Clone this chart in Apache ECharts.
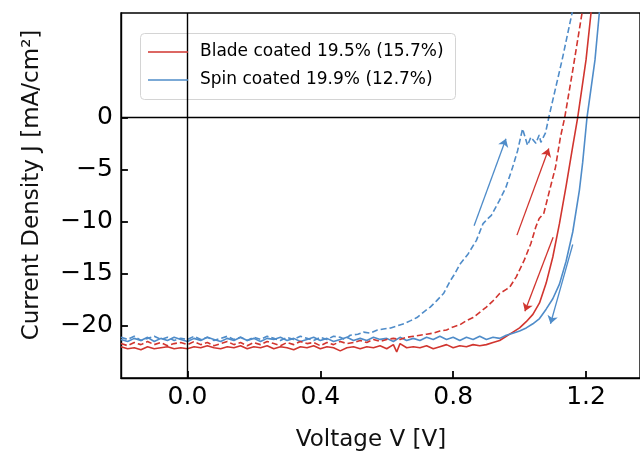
<!DOCTYPE html>
<html><head><meta charset="utf-8">
<script src="https://cdn.jsdelivr.net/npm/echarts@6/dist/echarts.min.js"></script>
<style>html,body{margin:0;padding:0;background:#fff}#c{width:640px;height:455px}</style>
</head><body><div id="c"></div>
<script>
// tick labels
const xTicks = [0, 0.4, 0.8, 1.2];
const yTicks = [-20, -15, -10, -5, 0];
const seriesNames = ['Blade coated 19.5% (15.7%)', 'Spin coated 19.9% (12.7%)'];

// Blade coated, solid scan  [V, J]
const bladeSolid = [
[-0.20,-22.0],[-0.18,-22.2],[-0.16,-22.1],[-0.14,-22.3],[-0.12,-22.0],[-0.10,-22.2],[-0.08,-22.1],[-0.06,-22.0],
[-0.04,-22.2],[-0.02,-22.1],[0.00,-22.2],[0.02,-22.0],[0.04,-22.1],[0.06,-21.9],[0.08,-22.1],[0.10,-22.2],
[0.12,-22.0],[0.14,-22.1],[0.16,-21.9],[0.18,-22.2],[0.20,-22.0],[0.22,-22.1],[0.24,-21.9],[0.26,-22.2],
[0.28,-22.0],[0.30,-22.1],[0.32,-22.3],[0.34,-22.0],[0.36,-22.1],[0.38,-21.9],[0.40,-22.2],[0.42,-22.0],
[0.44,-22.1],[0.46,-22.4],[0.48,-22.1],[0.50,-22.0],[0.52,-22.2],[0.54,-22.0],[0.56,-22.1],[0.58,-21.9],
[0.60,-22.2],[0.62,-21.8],[0.63,-22.5],[0.64,-21.7],[0.66,-22.1],[0.68,-22.0],[0.70,-22.1],[0.72,-21.9],
[0.74,-22.2],[0.76,-22.0],[0.78,-21.8],[0.80,-22.1],[0.82,-21.9],[0.84,-22.0],[0.86,-21.8],[0.88,-21.9],
[0.90,-21.8],[0.92,-21.6],[0.94,-21.4],[0.96,-21.0],[0.98,-20.6],[1.00,-20.2],[1.02,-19.6],[1.04,-18.9],
[1.06,-17.8],[1.08,-15.9],[1.10,-13.4],[1.12,-10.2],[1.14,-6.6],[1.16,-2.8],[1.175,0],[1.20,5.5],
[1.215,10],[1.222,12]
];
// Blade coated, dashed scan
const bladeDashed = [
[-0.20,-21.7],[-0.18,-21.9],[-0.16,-21.6],[-0.14,-21.8],[-0.12,-21.5],[-0.10,-21.8],[-0.08,-21.6],[-0.06,-21.9],
[-0.04,-21.7],[-0.02,-21.6],[0.00,-21.8],[0.02,-21.5],[0.04,-21.8],[0.06,-21.6],[0.08,-21.9],[0.10,-21.7],
[0.12,-21.5],[0.14,-21.8],[0.16,-21.6],[0.18,-21.9],[0.20,-21.6],[0.22,-21.8],[0.24,-21.5],[0.26,-21.7],
[0.28,-21.9],[0.30,-21.6],[0.32,-21.8],[0.34,-21.5],[0.36,-21.7],[0.38,-21.6],[0.40,-21.9],[0.42,-21.6],
[0.44,-21.8],[0.46,-21.5],[0.48,-21.7],[0.50,-21.6],[0.52,-21.4],[0.54,-21.6],[0.56,-21.3],[0.58,-21.5],
[0.60,-21.3],[0.62,-21.2],[0.64,-21.3],[0.66,-21.1],[0.68,-21.0],[0.70,-20.9],[0.72,-20.8],[0.74,-20.7],
[0.76,-20.5],[0.78,-20.4],[0.80,-20.1],[0.82,-19.9],[0.84,-19.5],[0.86,-19.2],[0.88,-18.7],[0.90,-18.2],
[0.92,-17.6],[0.94,-16.9],[0.96,-16.5],[0.97,-16.3],[0.99,-15.3],[1.014,-13.7],[1.034,-12.1],[1.049,-10.5],
[1.059,-9.7],[1.073,-9.2],[1.088,-7.3],[1.108,-4.8],[1.123,-1.9],[1.136,0],[1.16,4.5],[1.188,10],[1.195,11.5]
];
// Spin coated, solid scan
const spinSolid = [
[-0.20,-21.3],[-0.18,-21.5],[-0.16,-21.2],[-0.14,-21.4],[-0.12,-21.1],[-0.10,-21.5],[-0.08,-21.2],[-0.06,-21.4],
[-0.04,-21.1],[-0.02,-21.3],[0.00,-21.5],[0.02,-21.2],[0.04,-21.4],[0.06,-21.1],[0.08,-21.3],[0.10,-21.5],
[0.12,-21.2],[0.14,-21.4],[0.16,-21.1],[0.18,-21.4],[0.20,-21.2],[0.22,-21.5],[0.24,-21.2],[0.26,-21.3],
[0.28,-21.1],[0.30,-21.4],[0.32,-21.2],[0.34,-21.5],[0.36,-21.3],[0.38,-21.1],[0.40,-21.4],[0.42,-21.2],
[0.44,-21.5],[0.46,-21.3],[0.48,-21.1],[0.50,-21.4],[0.52,-21.2],[0.54,-21.4],[0.56,-21.1],[0.58,-21.3],
[0.60,-21.2],[0.62,-21.5],[0.64,-21.1],[0.66,-21.4],[0.68,-21.2],[0.70,-21.4],[0.72,-21.1],[0.74,-21.3],
[0.76,-21.0],[0.78,-21.3],[0.80,-21.1],[0.82,-21.4],[0.84,-21.1],[0.86,-21.3],[0.88,-21.0],[0.90,-21.3],
[0.92,-21.1],[0.94,-21.2],[0.96,-20.9],[0.98,-20.7],[1.00,-20.5],[1.02,-20.2],[1.04,-19.8],[1.06,-19.3],
[1.08,-18.4],[1.10,-17.4],[1.12,-16.0],[1.14,-13.8],[1.16,-11.0],[1.18,-7.0],[1.19,-4.3],[1.203,0],
[1.227,5.5],[1.24,10],[1.245,12]
];
// Spin coated, dashed scan
const spinDashed = [
[-0.20,-21.1],[-0.18,-21.3],[-0.16,-21.0],[-0.14,-21.4],[-0.12,-21.2],[-0.10,-21.0],[-0.08,-21.3],[-0.06,-21.1],
[-0.04,-21.4],[-0.02,-21.2],[0.00,-21.3],[0.02,-21.0],[0.04,-21.3],[0.06,-21.1],[0.08,-21.4],[0.10,-21.2],
[0.12,-21.0],[0.14,-21.3],[0.16,-21.1],[0.18,-21.4],[0.20,-21.1],[0.22,-21.3],[0.24,-21.0],[0.26,-21.2],
[0.28,-21.4],[0.30,-21.1],[0.32,-21.3],[0.34,-21.0],[0.36,-21.2],[0.38,-21.4],[0.40,-21.1],[0.42,-21.3],
[0.44,-21.0],[0.46,-21.1],[0.473,-21.3],[0.49,-20.9],[0.513,-20.8],[0.53,-20.6],[0.55,-20.7],[0.572,-20.4],
[0.59,-20.3],[0.612,-20.2],[0.632,-20.0],[0.652,-19.8],[0.672,-19.5],[0.691,-19.2],[0.71,-18.7],[0.731,-18.2],
[0.75,-17.6],[0.771,-16.9],[0.791,-15.7],[0.805,-15.0],[0.82,-14.1],[0.845,-13.1],[0.87,-11.8],[0.89,-10.2],
[0.905,-9.7],[0.915,-9.4],[0.939,-8.0],[0.959,-6.7],[0.979,-4.8],[0.994,-3.2],[1.009,-1.1],[1.024,-2.7],
[1.034,-1.9],[1.049,-2.5],[1.059,-1.7],[1.064,-2.4],[1.078,-1.5],[1.088,0],[1.128,5.5],[1.158,10],[1.165,11]
];
// scan direction arrows: [[V0,J0],[V1,J1]] (head at second point)
const spinArrowUp = [[0.863,-10.4],[0.959,-2.05]];
const bladeArrowUp = [[0.992,-11.3],[1.088,-3.0]];
const bladeArrowDown = [[1.101,-11.5],[1.016,-18.6]];
const spinArrowDown = [[1.160,-12.2],[1.093,-19.8]];

const X_MIN = -0.2, X_MAX = 1.3625, Y_MIN = -25, Y_MAX = 10;
const GRID = {left: 121, top: 13, right: -6, bottom: 77};
const W = 640, H = 455, TICK_LEN = 7;
const RED = '#d1352f', BLUE = '#4f8cc9';
const FONT = 'DejaVu Sans';

// tick length converted to data units of each axis
const plotW = W - GRID.left - GRID.right, plotH = H - GRID.top - GRID.bottom;
const dxTick = TICK_LEN * (X_MAX - X_MIN) / plotW;
const dyTick = TICK_LEN * (Y_MAX - Y_MIN) / plotH;
const tickSegments = xTicks.map(v => ({coords: [[v, Y_MIN], [v, Y_MIN + dyTick]]}))
  .concat(yTicks.map(v => ({coords: [[X_MIN, v], [X_MIN + dxTick, v]]})));

const chart = echarts.init(document.getElementById('c'), null, {renderer: 'canvas'});
function lineSeries(name, data, color, dashed, extra) {
  return Object.assign({
    name: name, type: 'line', data: data, showSymbol: false, symbol: 'none',
    lineStyle: {color: color, width: 1.6, type: dashed ? [6, 3] : 'solid'},
    itemStyle: {color: color}, emphasis: {disabled: true}, z: 2, animation: false
  }, extra || {});
}
chart.setOption({
  animation: false,
  grid: Object.assign({show: true, borderColor: '#000', borderWidth: 1.4, backgroundColor: 'transparent'}, GRID),
  xAxis: {
    type: 'value', min: X_MIN, max: X_MAX,
    axisLine: {show: true, onZero: false, lineStyle: {color: '#000', width: 1.4}},
    axisTick: {show: false},
    axisLabel: {customValues: xTicks, formatter: v => v.toFixed(1), color: '#000', fontFamily: FONT, fontSize: 25, margin: 7},
    splitLine: {show: false}
  },
  yAxis: {
    type: 'value', min: Y_MIN, max: Y_MAX, interval: 5,
    axisLine: {show: true, onZero: false, lineStyle: {color: '#000', width: 1.4}},
    axisTick: {show: false},
    axisLabel: {customValues: yTicks, formatter: v => String(v).replace('-', '\u2212'), color: '#000', fontFamily: FONT, fontSize: 25, margin: 8},
    splitLine: {show: false}
  },
  legend: {
    orient: 'vertical', left: 148, top: 43, padding: 0, itemGap: 10,
    itemWidth: 40, itemHeight: 1.6, icon: 'rect',
    data: seriesNames,
    textStyle: {fontFamily: FONT, fontSize: 17, color: '#000', lineHeight: 18, padding: [0, 0, 0, 7]},
    selectedMode: false, z: 10
  },
  graphic: [
    {type: 'rect', left: 140, top: 33, shape: {width: 315, height: 66, r: 4}, style: {fill: 'rgba(255,255,255,0.9)', stroke: '#d4d4d4', lineWidth: 1}, z: 5, silent: true},
    {type: 'text', x: 371, y: 440, style: {text: 'Voltage V [V]', font: '23px "DejaVu Sans"', fill: '#111', textAlign: 'center', textVerticalAlign: 'middle'}, silent: true},
    {type: 'text', x: 32, y: 185, rotation: Math.PI / 2, style: {text: 'Current Density J [mA/cm\u00b2]', font: '23px "DejaVu Sans"', fill: '#111', textAlign: 'center', textVerticalAlign: 'middle'}, silent: true}
  ],
  series: [
    lineSeries(seriesNames[0], bladeSolid, RED, false, {
      markLine: {silent: true, symbol: 'none', animation: false, label: {show: false},
        lineStyle: {color: '#000', width: 1.4, type: 'solid'}, emphasis: {disabled: true},
        data: [{yAxis: 0}, {xAxis: 0}]}
    }),
    lineSeries(seriesNames[1], spinSolid, BLUE, false),
    lineSeries('Blade coated (dashed scan)', bladeDashed, RED, true),
    lineSeries('Spin coated (dashed scan)', spinDashed, BLUE, true),
    {
      type: 'lines', coordinateSystem: 'cartesian2d', polyline: false, silent: true, animation: false,
      symbol: ['none', 'arrow'], symbolSize: 8, z: 3,
      data: [
        {coords: spinArrowUp, lineStyle: {color: BLUE}},
        {coords: bladeArrowUp, lineStyle: {color: RED}},
        {coords: bladeArrowDown, lineStyle: {color: RED}},
        {coords: spinArrowDown, lineStyle: {color: BLUE}}
      ],
      lineStyle: {width: 1.3, opacity: 1, curveness: 0}
    },
    {
      type: 'lines', coordinateSystem: 'cartesian2d', polyline: false, silent: true, animation: false,
      symbol: 'none', z: 4, clip: false,
      data: tickSegments,
      lineStyle: {color: '#000', width: 1.8, opacity: 1, curveness: 0}
    }
  ]
});
</script>
</body></html>
